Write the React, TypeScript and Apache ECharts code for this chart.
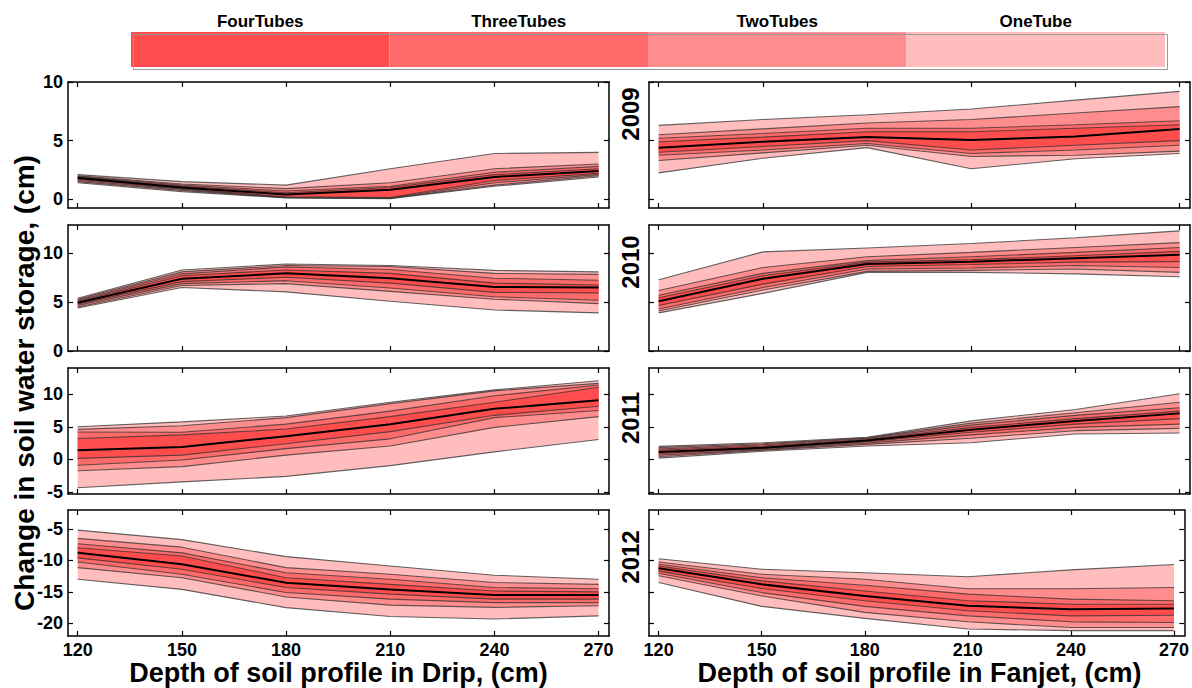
import React, { useEffect, useRef } from "react";
import * as echarts from "echarts";

const depths = [120, 150, 180, 210, 240, 270];
const xTickValues = [120, 150, 180, 210, 240, 270];
const bandNames = ["FourTubes", "ThreeTubes", "TwoTubes", "OneTube"];
const bandColors = ["#FF4D4D", "#FF6B6B", "#FF8D8D", "#FFBDBD"];
const years = ["2009", "2010", "2011", "2012"];
const yTicksRow1 = [0, 5, 10];
const yTicksRow2 = [0, 5, 10];
const yTicksRow3 = [-5, 0, 5, 10];
const yTicksRow4 = [-20, -15, -10, -5];
const yMinRows = [-0.75, 0, -5.3, -22];
const yMaxRows = [10, 12.9, 14, -2];
const xTitles = ["Depth of soil profile in Drip, (cm)", "Depth of soil profile in Fanjet, (cm)"];
const yTitle = "Change in soil water storage, (cm)";

// rows: OneTube low, TwoTubes low, ThreeTubes low, FourTubes low, median,
//       FourTubes high, ThreeTubes high, TwoTubes high, OneTube high
const drip2009 = [
  [1.4, 0.65, 0.1, 0.05, 1.1, 1.9],
  [1.5, 0.75, 0.12, 0.08, 1.2, 2.0],
  [1.6, 0.85, 0.15, 0.1, 1.4, 2.1],
  [1.7, 0.9, 0.2, 0.15, 1.6, 2.2],
  [1.8, 1.0, 0.4, 0.8, 1.9, 2.4],
  [1.9, 1.1, 0.55, 1.0, 2.1, 2.6],
  [1.95, 1.2, 0.7, 1.1, 2.3, 2.8],
  [2.0, 1.3, 0.9, 1.4, 2.6, 3.0],
  [2.1, 1.5, 1.2, 2.6, 3.9, 4.0],
];
const fanjet2009 = [
  [2.25, 3.5, 4.4, 2.6, 3.45, 3.9],
  [3.3, 3.95, 4.6, 3.65, 3.75, 4.1],
  [3.75, 4.2, 4.75, 3.9, 4.2, 4.6],
  [4.0, 4.5, 5.0, 4.2, 4.6, 5.0],
  [4.4, 4.9, 5.3, 5.05, 5.35, 6.0],
  [4.9, 5.3, 5.75, 5.75, 6.05, 6.35],
  [5.2, 5.6, 6.05, 6.05, 6.35, 6.7],
  [5.5, 6.0, 6.5, 6.8, 7.35, 7.9],
  [6.3, 6.8, 7.2, 7.7, 8.45, 9.2],
];
const drip2010 = [
  [4.4, 6.5, 6.05, 5.1, 4.2, 3.9],
  [4.5, 6.7, 6.9, 6.1, 5.3, 4.85],
  [4.65, 6.9, 7.2, 6.45, 5.55, 5.2],
  [4.8, 7.1, 7.55, 6.95, 6.0, 5.95],
  [4.95, 7.4, 7.95, 7.45, 6.55, 6.5],
  [5.1, 7.7, 8.3, 7.95, 6.95, 6.75],
  [5.2, 7.9, 8.6, 8.35, 7.45, 7.25],
  [5.3, 8.1, 8.75, 8.65, 7.95, 7.85],
  [5.4, 8.3, 8.9, 8.75, 8.25, 8.1],
];
const fanjet2010 = [
  [3.9, 5.9, 8.05, 8.05, 7.9, 7.6],
  [4.1, 6.25, 8.15, 8.25, 8.4, 8.05],
  [4.3, 6.5, 8.4, 8.5, 8.75, 8.55],
  [4.65, 6.85, 8.65, 8.85, 9.1, 9.15],
  [5.1, 7.4, 8.9, 9.15, 9.5, 9.85],
  [5.45, 7.7, 9.1, 9.35, 9.75, 10.2],
  [5.7, 7.95, 9.25, 9.65, 10.1, 10.6],
  [6.2, 8.55, 9.65, 10.1, 10.6, 11.1],
  [7.3, 10.15, 10.55, 11.0, 11.6, 12.3],
];
const drip2011 = [
  [-4.35, -3.45, -2.6, -0.95, 1.15, 3.05],
  [-1.75, -1.1, 0.65, 2.05, 4.9, 6.55],
  [-0.9, -0.1, 1.65, 3.15, 6.4, 7.5],
  [0.15, 0.65, 2.4, 4.25, 6.75, 8.15],
  [1.4, 1.9, 3.55, 5.4, 7.75, 9.05],
  [3.2, 3.75, 4.65, 6.55, 8.75, 11.05],
  [4.2, 4.15, 5.4, 7.4, 9.75, 11.4],
  [4.6, 5.15, 6.4, 8.55, 10.5, 11.65],
  [5.0, 5.75, 6.65, 8.75, 10.65, 12.05],
];
const fanjet2011 = [
  [0.2, 1.25, 2.05, 2.55, 3.9, 4.05],
  [0.4, 1.4, 2.3, 3.25, 4.4, 4.75],
  [0.65, 1.5, 2.5, 3.75, 4.9, 5.4],
  [0.9, 1.65, 2.7, 4.15, 5.4, 6.25],
  [1.15, 1.8, 2.9, 4.55, 5.9, 7.05],
  [1.4, 2.05, 3.05, 4.9, 6.25, 7.4],
  [1.6, 2.25, 3.2, 5.25, 6.75, 7.9],
  [1.8, 2.4, 3.3, 5.55, 7.15, 8.75],
  [2.0, 2.55, 3.4, 5.9, 7.65, 10.05],
];
const drip2012 = [
  [-13.0, -14.6, -17.5, -18.9, -19.3, -18.8],
  [-11.15, -12.75, -15.8, -17.1, -17.45, -17.2],
  [-10.25, -12.2, -15.1, -16.15, -16.7, -16.7],
  [-9.6, -11.4, -14.3, -15.35, -16.15, -16.15],
  [-8.8, -10.6, -13.55, -14.6, -15.5, -15.5],
  [-8.0, -9.3, -12.75, -13.8, -14.85, -15.0],
  [-7.35, -8.8, -11.95, -13.0, -14.3, -14.5],
  [-6.5, -7.9, -11.15, -12.2, -13.5, -13.8],
  [-5.2, -6.7, -9.4, -10.9, -12.35, -13.0],
];
const fanjet2012 = [
  [-13.5, -17.3, -19.2, -20.9, -21.15, -21.15],
  [-12.45, -15.65, -18.25, -19.75, -20.65, -20.65],
  [-12.05, -15.1, -17.3, -18.8, -19.75, -19.85],
  [-11.7, -14.45, -16.4, -18.0, -18.8, -18.7],
  [-11.25, -13.8, -15.65, -17.2, -17.75, -17.65],
  [-10.9, -13.25, -14.85, -16.4, -16.95, -16.95],
  [-10.6, -12.75, -13.95, -15.35, -16.15, -16.4],
  [-10.25, -12.2, -13.0, -14.5, -14.5, -14.3],
  [-9.75, -11.4, -11.95, -12.6, -11.5, -10.65],
];

const panelData = [drip2009, fanjet2009, drip2010, fanjet2010, drip2011, fanjet2011, drip2012, fanjet2012];
const yTicksByRow = [yTicksRow1, yTicksRow2, yTicksRow3, yTicksRow4];

// layout (pixels)
const FONT = "Liberation Sans";
const PANEL_LEFT = [68, 649];
const PANEL_W = 541;
const ROW_TOP = [82, 225, 368, 510];
const PANEL_H = 126;
const X_MIN = 117.2;
const X_MAX = 273;
const YEAR_Y = [114, 262, 418, 557];

function buildOption() {
  const grid: any[] = [];
  const xAxis: any[] = [];
  const yAxis: any[] = [];
  const series: any[] = [];
  const axisLineStyle = { color: "#000", width: 1.5 };
  const tickStyle = { color: "#000", width: 1.2 };

  panelData.forEach((rows, i) => {
    const row = Math.floor(i / 2);
    const col = i % 2;
    grid.push({ left: PANEL_LEFT[col], top: ROW_TOP[row], width: PANEL_W, height: PANEL_H });
    const yTicks = yTicksByRow[row];
    xAxis.push({
      gridIndex: i, type: "value", min: X_MIN, max: X_MAX, position: "bottom",
      axisLine: { show: true, onZero: false, lineStyle: axisLineStyle },
      axisTick: { show: true, inside: true, length: 5, customValues: xTickValues, lineStyle: tickStyle },
      axisLabel: {
        show: row === 3, customValues: xTickValues, color: "#000", fontSize: 18,
        fontWeight: "bold", fontFamily: FONT, margin: 5,
      },
      splitLine: { show: false },
    });
    xAxis.push({
      gridIndex: i, type: "value", min: X_MIN, max: X_MAX, position: "top",
      axisLine: { show: true, onZero: false, lineStyle: axisLineStyle },
      axisTick: { show: true, inside: true, length: 5, customValues: xTickValues, lineStyle: tickStyle },
      axisLabel: { show: false },
      splitLine: { show: false },
    });
    yAxis.push({
      gridIndex: i, type: "value", min: yMinRows[row], max: yMaxRows[row], position: "left",
      axisLine: { show: true, onZero: false, lineStyle: axisLineStyle },
      axisTick: { show: true, inside: true, length: 5, customValues: yTicks, lineStyle: tickStyle },
      axisLabel: {
        show: col === 0, customValues: yTicks, color: "#000", fontSize: 18,
        fontWeight: "bold", fontFamily: FONT, margin: 5,
      },
      splitLine: { show: false },
    });
    yAxis.push({
      gridIndex: i, type: "value", min: yMinRows[row], max: yMaxRows[row], position: "right",
      axisLine: { show: true, onZero: false, lineStyle: axisLineStyle },
      axisTick: { show: true, inside: true, length: 5, customValues: yTicks, lineStyle: tickStyle },
      axisLabel: { show: false },
      splitLine: { show: false },
    });

    const xi = i * 2;
    // bands, outermost first
    for (let b = bandNames.length - 1; b >= 0; b--) {
      const lo = rows[3 - b];
      const hi = rows[5 + b];
      const color = bandColors[b];
      series.push({
        type: "custom",
        name: bandNames[b],
        xAxisIndex: xi,
        yAxisIndex: xi,
        silent: true,
        z: 1,
        data: depths.map((x, j) => [x, lo[j], hi[j]]),
        encode: { x: 0, y: [1, 2] },
        renderItem: (params: any, api: any) => {
          if (params.dataIndex !== 0) return null;
          const pts: number[][] = [];
          for (let j = 0; j < depths.length; j++) pts.push(api.coord([depths[j], hi[j]]));
          for (let j = depths.length - 1; j >= 0; j--) pts.push(api.coord([depths[j], lo[j]]));
          return { type: "polygon", shape: { points: pts }, style: { fill: color } };
        },
      });
    }
    rows.forEach((vals, r) => {
      const isMedian = r === 4;
      series.push({
        type: "line",
        xAxisIndex: xi,
        yAxisIndex: xi,
        silent: true,
        z: isMedian ? 4 : 3,
        symbol: "none",
        data: depths.map((x, j) => [x, vals[j]]),
        lineStyle: isMedian
          ? { color: "#000", width: 2 }
          : { color: "rgba(50,50,50,0.75)", width: 1.1 },
      });
    });
  });

  const graphic: any[] = [];
  // legend bar
  const LEG_X = 131, LEG_Y = 32, LEG_W = 1034, LEG_H = 35;
  const segW = LEG_W / bandNames.length;
  bandNames.forEach((name, k) => {
    graphic.push({
      type: "rect", left: LEG_X + k * segW, top: LEG_Y,
      shape: { width: segW, height: LEG_H }, style: { fill: bandColors[k] }, silent: true,
    });
    graphic.push({
      type: "text", x: LEG_X + k * segW + segW / 2, y: 21,
      style: {
        text: name, fill: "#000", font: `bold 17px "${FONT}"`, textAlign: "center", textVerticalAlign: "middle",
      },
      silent: true,
    });
  });
  graphic.push({
    type: "rect", left: LEG_X, top: LEG_Y,
    shape: { width: LEG_W, height: LEG_H }, style: { fill: "none", stroke: "#999", lineWidth: 1 }, silent: true,
  });
  // year labels
  years.forEach((yr, r) => {
    graphic.push({
      type: "text", x: 630, y: YEAR_Y[r], rotation: Math.PI / 2,
      style: { text: yr, fill: "#000", font: `bold 24px "${FONT}"`, textAlign: "center", textVerticalAlign: "middle" },
      silent: true,
    });
  });
  // axis titles
  graphic.push({
    type: "text", x: 24, y: 383, rotation: Math.PI / 2,
    style: { text: yTitle, fill: "#000", font: `bold 28px "${FONT}"`, textAlign: "center", textVerticalAlign: "middle" },
    silent: true,
  });
  xTitles.forEach((t, c) => {
    graphic.push({
      type: "text", x: PANEL_LEFT[c] + PANEL_W / 2, y: 673,
      style: { text: t, fill: "#000", font: `bold 27px "${FONT}"`, textAlign: "center", textVerticalAlign: "middle" },
      silent: true,
    });
  });

  return {
    animation: false,
    backgroundColor: "#fff",
    textStyle: { fontFamily: FONT },
    grid,
    xAxis,
    yAxis,
    series,
    graphic,
  };
}

export default function App() {
  const ref = useRef<HTMLDivElement>(null);
  useEffect(() => {
    if (!ref.current) return;
    const chart = echarts.init(ref.current, undefined, { renderer: "svg" });
    chart.setOption(buildOption() as any);
    return () => chart.dispose();
  }, []);
  return (
    <div
      ref={ref}
      style={{ position: "fixed", left: 0, top: 0, width: 1192, height: 688, background: "#fff" }}
    />
  );
}
